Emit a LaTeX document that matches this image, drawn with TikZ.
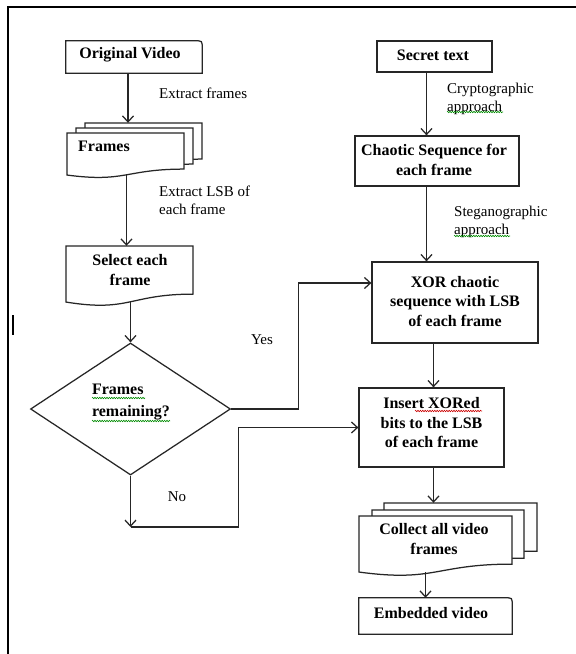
\documentclass[tikz,border=0pt]{standalone}
\usepackage{fontspec}
\setmainfont{Liberation Serif}
\usetikzlibrary{arrows.meta,shapes.geometric,decorations.pathmorphing}
\newcommand\mydoc[4]{\filldraw[line, fill=white] (#1,#2) -- (#3,#2) -- (#3,{#2+0.802*#4}) .. controls ({(#1+#3)/2},{#2+0.802*#4}) and ({(#1+#3)/2},{#2+1.107*#4}) .. (#1,{#2+0.934*#4}) -- cycle;}
\begin{document}
\begin{tikzpicture}[x=1pt,y=-1pt,
 line/.style={line width=1.25pt, draw=black!85},
 arr/.style={line, -{Straight Barb[length=6pt,width=11pt]}},
 box/.style={draw=black!85, line width=1.25pt, fill=white, inner sep=0pt},
 btxt/.style={font=\fontsize{16}{19.5}\selectfont\bfseries, align=center, inner sep=0pt},
 lbl/.style={font=\fontsize{15}{18}\selectfont, align=left, inner sep=0pt},
 spell/.style={decorate, decoration={zigzag,segment length=2.4pt,amplitude=0.7pt}, line width=0.6pt},
 area/.style={inner sep=0pt, draw=none}
]
\useasboundingbox (0,0) rectangle (576,654);
\fill[white] (0,0) rectangle (576,654);
\draw[line width=2pt, black] (8,654) -- (8,7) -- (576,7);
\draw[line width=2.6pt, black] (13,315) -- (13,335);

% left column
\node[area, minimum width=136pt, minimum height=32pt] (orig) at (134,57) {};
\draw[line] (orig.south west) -- (orig.north west) -- ([xshift=-7pt]orig.north east) .. controls (orig.north east) .. ([yshift=-7pt]orig.north east) -- (orig.south east) -- cycle;
\node[btxt] (origtxt) at (130,55) {Original Video};

\node[area, minimum width=135pt, minimum height=52pt] (fstack) at (134.5,149) {};
\mydoc{85}{123}{202}{45}
\mydoc{76}{128}{193}{45}
\mydoc{67}{133}{184}{45}
\node[btxt, anchor=west] (framestxt) at (78,146) {Frames};

\node[area, minimum width=127pt, minimum height=56pt] (select) at (129.5,274) {};
\mydoc{66}{246}{193}{60}
\node[btxt] (selecttxt) at (130,270) {Select each\\frame};

\node[draw=black!85, line width=1.25pt, diamond, aspect=1.515, minimum width=200pt, minimum height=132pt, inner sep=0pt] (dec) at (130.5,409) {};
\node[btxt, align=left, font=\fontsize{16}{22.5}\selectfont\bfseries] (dectxt) at (131,402) {Frames\\remaining?};

% right column
\node[box, minimum width=115pt, minimum height=31pt] (secret) at (434.5,56.5) {};
\node[btxt] (secrettxt) at (433,55) {Secret text};
\node[box, minimum width=164pt, minimum height=50pt] (chaotic) at (437,161) {};
\node[btxt] (chaotictxt) at (434,160) {Chaotic Sequence for\\each frame};
\node[box, minimum width=166pt, minimum height=81pt] (xor) at (455,302.5) {};
\node[btxt] (xortxt) at (455,301.5) {XOR chaotic\\sequence with LSB\\of each frame};
\node[box, minimum width=145pt, minimum height=79pt] (insert) at (431.5,427.5) {};
\node[btxt] (inserttxt) at (431.5,423) {Insert XORed\\bits to the LSB\\of each frame};

\node[area, minimum width=178pt, minimum height=69pt] (cstack) at (448,537.5) {};
\mydoc{384}{503}{537}{60}
\mydoc{372}{510}{524}{60}
\mydoc{359}{516}{512}{60}
\node[btxt] (collecttxt) at (434,539) {Collect all video\\frames};

\node[area, minimum width=153pt, minimum height=36pt] (embed) at (435.5,616) {};
\draw[line] (embed.south west) -- (embed.north west) -- ([xshift=-7pt]embed.north east) .. controls (embed.north east) .. ([yshift=-7pt]embed.north east) -- (embed.south east) -- cycle;
\node[btxt] (embedtxt) at (431,613) {Embedded video};

% connectors
\coordinate (a1) at ([xshift=-6pt]orig.south);
\draw[arr] (a1) -- (a1 |- fstack.north);
\coordinate (a2) at ([xshift=-8pt]fstack.south);
\draw[arr] (a2) -- (a2 |- select.north);
\draw[arr] (dec.north |- select.south) -- (dec.north);
\coordinate (yes) at (298.5,283);
\draw[arr] (dec.east) -| (yes) -- (yes -| xor.west);
\coordinate (noend) at (130.5,527);
\coordinate (noturn) at (238.5,527);
\draw[arr] (dec.south) -- (noend);
\draw[arr] (noend) -- (noturn) |- (insert.west);

\coordinate (b1) at ([xshift=-8pt]secret.south);
\draw[arr] (b1) -- (b1 |- chaotic.north);
\coordinate (b2) at ([xshift=-10.5pt]chaotic.south);
\draw[arr] (b2) -- (b2 |- xor.north);
\coordinate (b3) at ([xshift=2pt]insert.north);
\draw[arr] (b3 |- xor.south) -- (b3);
\draw[arr] (b3 |- insert.south) -- (b3 |- cstack.north);
\coordinate (b4) at ([xshift=-10pt]embed.north);
\draw[arr] (b4 |- cstack.south) -- (b4);

% labels
\node[lbl, anchor=west] (l1) at (159,93) {Extract frames};
\node[lbl, anchor=west] (l2) at (159,200) {Extract LSB of\\each frame};
\node[lbl, anchor=west] (l3) at (447,99) {Cryptographic\\approach};
\node[lbl, anchor=west] (l4) at (454,222) {Steganographic\\approach};
\node[lbl] (yeslbl) at (262,340) {Yes};
\node[lbl] (nolbl) at (177,497) {No};

% spelling marks
\draw[spell, green!55!black] (447,112) -- (503,112);
\draw[spell, green!55!black] (454,236) -- (510,236);
\draw[spell, green!55!black] (92,398) -- (145,398);
\draw[spell, green!55!black] (92,421) -- (170,421);
\draw[spell, red!80!black] (415,411) -- (482,411);
\end{tikzpicture}
\end{document}
